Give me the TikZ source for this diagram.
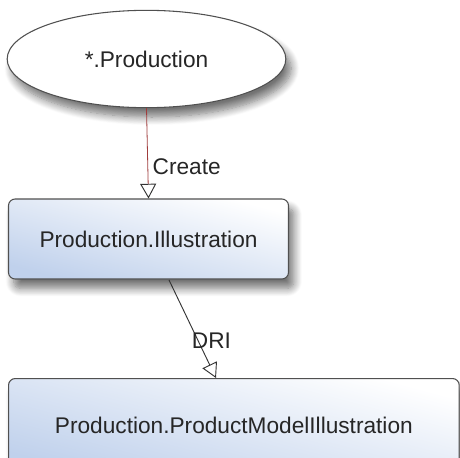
\documentclass[tikz,border=0pt]{standalone}
\usepackage{fontspec}
\setmainfont{Liberation Sans}
\usetikzlibrary{shapes.geometric,arrows.meta,shadows.blur}
\definecolor{boxblue}{RGB}{192,209,236}
\definecolor{edgered}{RGB}{160,60,60}
\definecolor{outline}{RGB}{80,80,80}
\tikzset{
  lbl/.style={font=\fontsize{17}{19}\selectfont, text=black!85},
  softshadow/.style={blur shadow={shadow xshift=4pt, shadow yshift=-7pt, shadow blur steps=10, shadow blur radius=6pt, shadow opacity=55}},
  entity/.style={draw=outline, line width=0.8pt, rounded corners=5pt,
    left color=white, right color=boxblue, shading angle=-15,
    softshadow, lbl, inner sep=0pt},
  scopenode/.style={ellipse, draw=outline, line width=0.8pt, fill=white,
    softshadow, lbl, inner sep=0pt},
  opentip/.style={-{Triangle[open, length=11pt, width=12pt, line width=0.7pt, color=black!80]}},
}
\begin{document}
\begin{tikzpicture}[x=0.75pt,y=-0.75pt]
\useasboundingbox (0,0) rectangle (460,457);
\node[scopenode, minimum width=209pt, minimum height=73pt] (prod) at (146.5,59) {*.Production};
\node[entity, minimum width=210pt, minimum height=60pt] (ill) at (148.5,239) {Production.Illustration};
\node[entity, minimum width=338pt, minimum height=70pt, anchor=north west] (pmi) at (8,378) {Production.ProductModelIllustration};
\draw[edgered, line width=0.6pt, opentip] (prod.south) -- (ill.north) node[pos=0.65, right=0pt, lbl] {Create};
\coordinate (s2) at (169,280);
\coordinate (e2) at (216,378);
\draw[black!80, line width=0.7pt, opentip] (s2) -- (e2) node[pos=0.62, lbl, xshift=10pt] {DRI};
\end{tikzpicture}
\end{document}
